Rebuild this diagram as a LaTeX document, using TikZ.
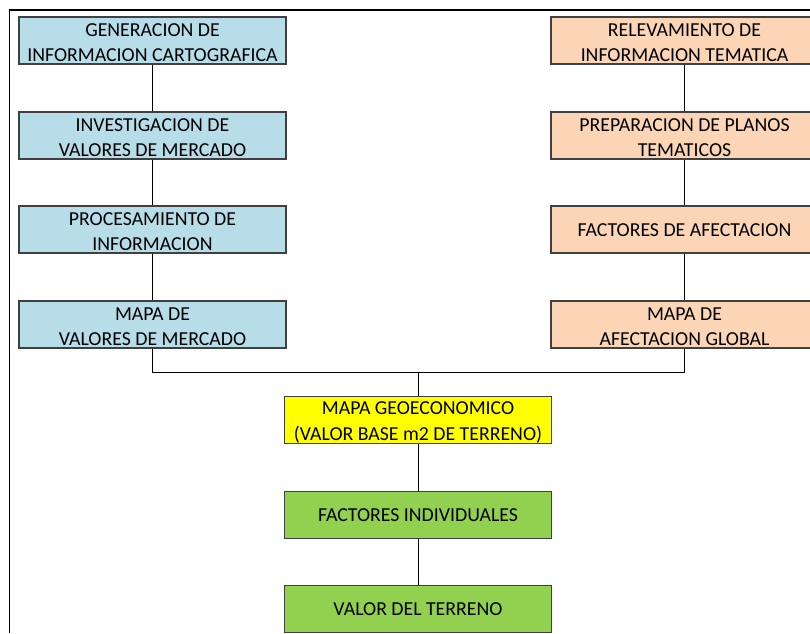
\documentclass[tikz,border=0pt]{standalone}
\usepackage{fontspec}
\setmainfont{Carlito}
\definecolor{bluebox}{HTML}{B7DDE8}
\definecolor{peachbox}{HTML}{FBD5B5}
\definecolor{yellowbox}{HTML}{FFFF00}
\definecolor{greenbox}{HTML}{92D050}
\definecolor{boxline}{HTML}{404040}
\begin{document}
\begin{tikzpicture}[x=1pt,y=-1pt,
  box/.style={draw=boxline, line width=1.2pt, rectangle, minimum width=267pt, minimum height=47pt,
    inner sep=0pt, align=center, font=\fontsize{19.8}{25.5}\selectfont, text=black},
  twoline/.style={text height=42.4pt, text depth=0pt},
  oneline/.style={text height=13.4pt, text depth=0pt},
  bluestep/.style={box, fill=bluebox},
  peachstep/.style={box, fill=peachbox},
  yellowstep/.style={box, fill=yellowbox, text height=40.5pt, text depth=0pt},
  greenstep/.style={box, fill=greenbox},
  link/.style={draw=black, line width=1pt}]
\useasboundingbox (0,0) rectangle (810,633);
\fill[white] (0,0) rectangle (810,633);
% frame
\draw[line width=1.6pt, black] (9.5,633) -- (9.5,10) -- (812,10);
% left column
\node[bluestep, twoline] (l1) at (152.5,40.5) {GENERACION DE\\INFORMACION CARTOGRAFICA};
\node[bluestep, twoline] (l2) at (152.5,135.5) {INVESTIGACION DE\\VALORES DE MERCADO};
\node[bluestep, twoline] (l3) at (152.5,229.5) {PROCESAMIENTO DE\\INFORMACION};
\node[bluestep, twoline] (l4) at (152.5,324.5) {MAPA DE\\VALORES DE MERCADO};
% right column
\node[peachstep, twoline] (r1) at (684.5,40.5) {RELEVAMIENTO DE\\INFORMACION TEMATICA};
\node[peachstep, twoline] (r2) at (684.5,135.5) {PREPARACION DE PLANOS\\TEMATICOS};
\node[peachstep, oneline] (r3) at (684.5,229.5) {FACTORES DE AFECTACION};
\node[peachstep, twoline] (r4) at (684.5,324.5) {MAPA DE\\AFECTACION GLOBAL};
% center column
\node[yellowstep] (c1) at (418,420) {MAPA GEOECONOMICO\\(VALOR BASE m2 DE TERRENO)};
\node[greenstep, oneline] (c2) at (418,515) {FACTORES INDIVIDUALES};
\node[greenstep, oneline] (c3) at (418,609) {VALOR DEL TERRENO};
\coordinate (j) at (418,372);
% connectors
\draw[link] (l1) -- (l2);
\draw[link] (l2) -- (l3);
\draw[link] (l3) -- (l4);
\draw[link] (r1) -- (r2);
\draw[link] (r2) -- (r3);
\draw[link] (r3) -- (r4);
\draw[link] (l4.south) |- (j) -| (r4.south);
\draw[link] (j) -- (c1.north);
\draw[link] (c1) -- (c2);
\draw[link] (c2) -- (c3);
\end{tikzpicture}
\end{document}
